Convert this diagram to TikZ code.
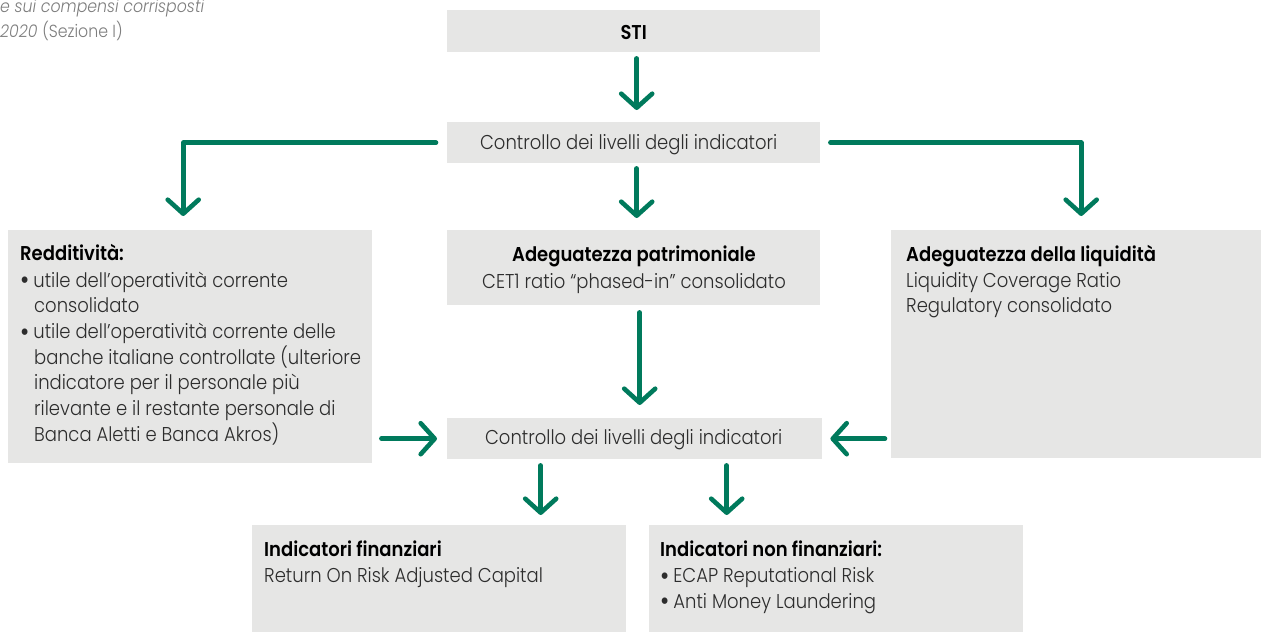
\documentclass[tikz,border=0pt]{standalone}
\usepackage{fontspec}
\setmainfont{Poppins}[UprightFont=* Light, BoldFont=* SemiBold, ItalicFont=* Light Italic, FakeStretch=0.9]
\usetikzlibrary{arrows.meta}
\definecolor{grn}{RGB}{0,122,92}
\definecolor{boxgray}{RGB}{230,230,229}
\definecolor{bodytxt}{RGB}{45,45,45}
\definecolor{topgray}{RGB}{125,125,125}
\newcommand{\bul}{\raisebox{-0.13em}{\scalebox{1.4}{•}}\hspace{4pt}}
\begin{document}
\begin{tikzpicture}[x=1pt,y=-1pt,
  box/.style={fill=boxgray, draw=none, inner sep=0pt, anchor=north west},
  txt/.style={inner sep=0pt, text=bodytxt, align=left, anchor=north west, font={\fontsize{20}{25.7}\selectfont}},
  ctxt/.style={inner sep=0pt, text=bodytxt, align=center, font={\fontsize{20}{25.7}\selectfont}},
  arr/.style={draw=grn, line width=4.6pt, line cap=round, line join=round, -{Straight Barb[length=14pt,width=31pt,round]}}
]
\useasboundingbox (0,0) rectangle (1261,632);
% top-left header
\node[inner sep=0pt, anchor=west, text=topgray, font={\fontsize{17.5}{22}\selectfont}] (h1) at (0,8) {\itshape e sui compensi corrisposti};
\node[inner sep=0pt, anchor=west, text=topgray, font={\fontsize{17.5}{22}\selectfont}] (h2) at (0,31) {\itshape 2020 \upshape(Sezione I)};
% boxes
\node[box, minimum width=373pt, minimum height=42pt] (sti) at (447,10) {};
\node[box, minimum width=373pt, minimum height=41pt] (c1) at (447,122) {};
\node[box, minimum width=364pt, minimum height=233pt] (left) at (8,230) {};
\node[box, minimum width=373pt, minimum height=75pt] (mid) at (447,230) {};
\node[box, minimum width=370pt, minimum height=228pt] (right) at (891,230) {};
\node[box, minimum width=375pt, minimum height=41pt] (c2) at (447,418) {};
\node[box, minimum width=374pt, minimum height=107pt] (bl) at (252,525) {};
\node[box, minimum width=374pt, minimum height=107pt] (br) at (649,525) {};
% texts
\node[ctxt, text=black] (tsti) at ([yshift=-1pt]sti.center) {\textbf{STI}};
\node[ctxt] (tc1) at ([xshift=-5pt,yshift=-2pt]c1.center) {Controllo dei livelli degli indicatori};
\node[ctxt] (tc2) at ([xshift=-1pt,yshift=-1pt]c2.center) {Controllo dei livelli degli indicatori};
\node[txt] (tleft) at (20,244) {\textcolor{black}{\textbf{Redditività:}}\\[1pt]
\bul utile dell’operatività corrente\\
\hspace*{14pt}consolidato\\
\bul utile dell’operatività corrente delle\\
\hspace*{14pt}banche italiane controllate (ulteriore\\
\hspace*{14pt}indicatore per il personale più\\
\hspace*{14pt}rilevante e il restante personale di\\
\hspace*{14pt}Banca Aletti e Banca Akros)};
\node[ctxt, anchor=north] (tmid) at (634,246) {\textcolor{black}{\textbf{Adeguatezza patrimoniale}}\\[1pt]
CET1 ratio “phased-in” consolidato};
\node[txt] (tright) at (906,245) {\textcolor{black}{\textbf{Adeguatezza della liquidità}}\\
Liquidity Coverage Ratio\\
Regulatory consolidato};
\node[txt] (tbl) at (264,541) {\textcolor{black}{\textbf{Indicatori finanziari}}\\
Return On Risk Adjusted Capital};
\node[txt] (tbr) at (660,541) {\textcolor{black}{\textbf{Indicatori non finanziari:}}\\
\bul ECAP Reputational Risk\\
\bul Anti Money Laundering};
% arrows
\draw[arr, shorten <=6pt, shorten >=12pt] ([xshift=3pt]sti.south) -- ([xshift=3pt]c1.north);
\draw[arr, shorten <=5pt, shorten >=12pt] ([xshift=3pt]c1.south) -- ([xshift=3pt]mid.north);
\draw[arr, shorten <=11pt, shorten >=14pt] (c1.west) -| ([xshift=-7pt]left.north);
\draw[arr, shorten <=10pt, shorten >=14pt] (c1.east) -| ([xshift=5pt]right.north);
\draw[arr, shorten <=7pt, shorten >=13pt] ([xshift=6pt]mid.south) -- ([xshift=6pt]mid.south |- c2.north);
\draw[arr, shorten <=9pt, shorten >=10pt] (left.east |- c2.west) -- (c2.west);
\draw[arr, shorten <=6pt, shorten >=8pt] (right.west |- c2.east) -- (c2.east);
\draw[arr, shorten <=6pt, shorten >=10pt] ([xshift=-94pt]c2.south) -- ([xshift=-94pt]c2.south |- bl.north);
\draw[arr, shorten <=6pt, shorten >=10pt] ([xshift=92pt]c2.south) -- ([xshift=92pt]c2.south |- br.north);
\end{tikzpicture}
\end{document}
